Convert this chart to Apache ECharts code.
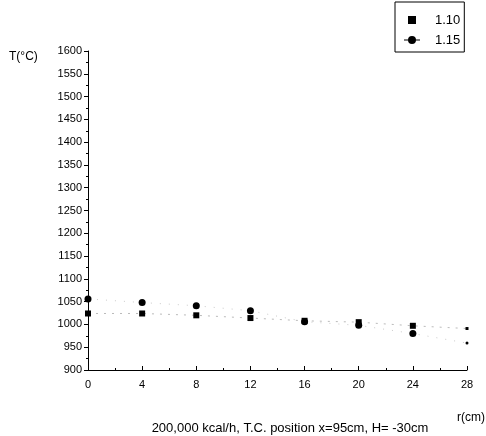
<!DOCTYPE html>
<html>
<head>
<meta charset="utf-8">
<script src="https://cdn.jsdelivr.net/npm/echarts@6/dist/echarts.min.js"></script>
<style>html,body{margin:0;padding:0;background:#fff}#c{width:486px;height:436px}</style>
</head>
<body>
<div id="c"></div>
<script>
var rValues = [0, 4, 8, 12, 16, 20, 24, 28];
var series110 = [1024, 1024, 1020, 1014, 1008, 1005, 997, 991];
var series115 = [1056, 1048, 1041, 1030, 1006, 998, 980, 959];
var seriesNames = ['1.10', '1.15'];
var xTicks = [0, 4, 8, 12, 16, 20, 24, 28];
var yMin = 900, yMax = 1600, yStep = 50;

function pts(vals) {
  return vals.map(function (v, i) {
    var item = { value: [rValues[i], v] };
    if (i === vals.length - 1) item.symbolSize = 3;
    return item;
  });
}

var chart = echarts.init(document.getElementById('c'), null, { renderer: 'canvas' });
var font = 'Liberation Sans, Arial, sans-serif';
chart.setOption({
  animation: false,
  backgroundColor: '#fff',
  grid: { left: 88, right: 19, top: 51, bottom: 66, containLabel: false },
  legend: {
    left: 395, top: 2,
    orient: 'vertical',
    itemGap: 6,
    itemWidth: 16, itemHeight: 8,
    padding: [11, 4, 5, 9],
    borderColor: '#000', borderWidth: 1,
    symbolKeepAspect: true,
    textStyle: { fontFamily: font, fontSize: 13, lineHeight: 14, color: '#000', padding: [0, 0, 0, 10] },
    data: [
      { name: seriesNames[0], icon: 'path://M4,0L12,0L12,8L4,8Z' },
      { name: seriesNames[1], icon: 'path://M0,3.6L16,3.6L16,4.4L0,4.4Z M4,4A4,4 0 1,1 12,4A4,4 0 1,1 4,4Z' }
    ]
  },
  title: [
    {
      text: '200,000 kcal/h, T.C. position x=95cm, H= -30cm',
      left: 285, top: 417, textAlign: 'center',
      textStyle: { fontFamily: font, fontSize: 13, fontWeight: 'normal', color: '#000' }
    },
    {
      text: 'T(°C)', left: 4, top: 46,
      textStyle: { fontFamily: font, fontSize: 12, fontWeight: 'normal', color: '#000' }
    },
    {
      text: 'r(cm)', left: 452, top: 407,
      textStyle: { fontFamily: font, fontSize: 12, fontWeight: 'normal', color: '#000' }
    }
  ],
  xAxis: {
    type: 'value', min: 0, max: 28, interval: 4,
    axisLine: { lineStyle: { color: '#000', width: 1 } },
    axisTick: { inside: true, length: 4, lineStyle: { color: '#000' } },
    minorTick: { show: true, splitNumber: 2, length: 2, lineStyle: { color: '#000' } },
    splitLine: { show: false },
    axisLabel: {
      fontFamily: font, fontSize: 11, color: '#000', margin: 9,
      formatter: function (v) { return xTicks.indexOf(v) >= 0 ? String(v) : ''; }
    }
  },
  yAxis: {
    type: 'value', min: yMin, max: yMax, interval: yStep,
    axisLine: { show: true, lineStyle: { color: '#000', width: 1 } },
    axisTick: { show: true, length: 4, lineStyle: { color: '#000' } },
    minorTick: { show: true, splitNumber: 2, length: 2, lineStyle: { color: '#000' } },
    splitLine: { show: false },
    axisLabel: { fontFamily: font, fontSize: 11, color: '#000', margin: 6, formatter: function (v) { return String(v); } }
  },
  series: [
    {
      name: seriesNames[0], type: 'line', data: pts(series110),
      symbol: 'rect', symbolSize: 6,
      itemStyle: { color: '#000' },
      lineStyle: { color: '#bbb', width: 1, type: [2, 6] }
    },
    {
      name: seriesNames[1], type: 'line', data: pts(series115),
      symbol: 'circle', symbolSize: 7,
      itemStyle: { color: '#000' },
      lineStyle: { color: '#ccc', width: 1, type: [1, 8] }
    }
  ]
});
</script>
</body>
</html>
